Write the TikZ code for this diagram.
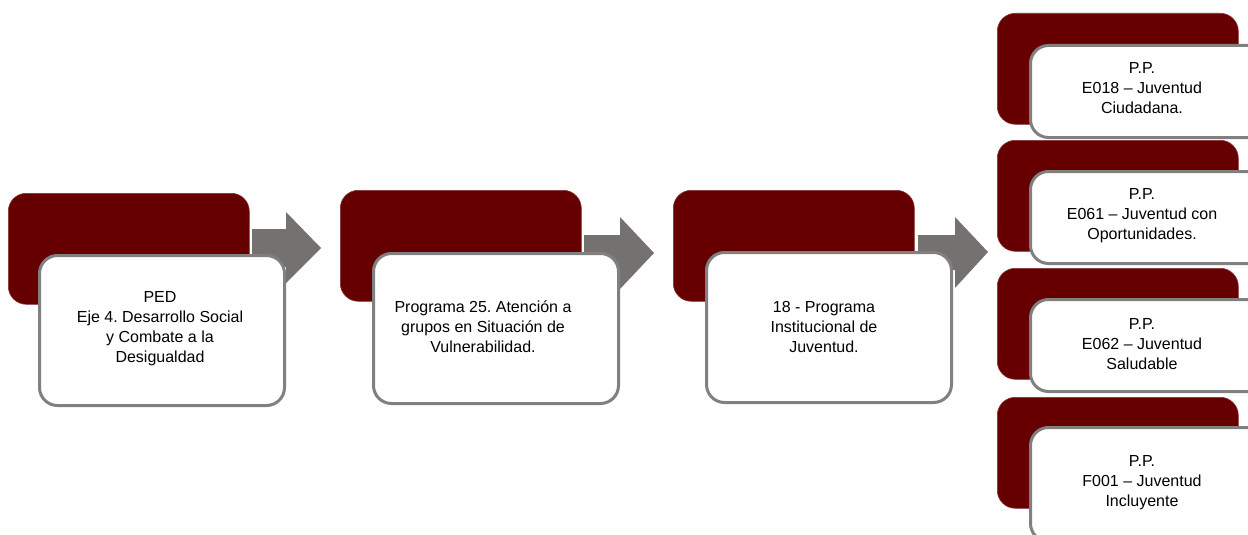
\documentclass[tikz,border=0pt]{standalone}
\usepackage{fontspec}
\setmainfont{Liberation Sans}
\frenchspacing
\definecolor{darkred}{HTML}{660000}
\definecolor{arrowgray}{HTML}{767171}
\definecolor{bordergray}{HTML}{808080}
\begin{document}
\begin{tikzpicture}[x=1pt,y=-1pt,
  redbox/.style={draw=darkred!80!white, line width=0.6pt, fill=darkred, rounded corners=18pt, anchor=north west, minimum width=241pt, minimum height=111pt, inner sep=0pt},
  whitebox/.style={draw=bordergray, line width=3pt, fill=white, rounded corners=18pt, anchor=north west, minimum width=245pt, minimum height=92pt, inner sep=0pt},
  bigwhite/.style={whitebox, minimum height=150pt},
  lbl/.style={align=center, inner sep=0pt, font=\fontsize{16}{20}\selectfont\frenchspacing},
  blockarrow/.style={fill=arrowgray}
]
\useasboundingbox (0,0) rectangle (1248,535);
\clip (0,0) rectangle (1248,535);
% arrows (behind)
\fill[blockarrow] (252,229) -- (286,229) -- (286,212) -- (321,248) -- (286,283) -- (286,267) -- (252,267) -- cycle;
\fill[blockarrow] (584,235) -- (620,235) -- (620,217) -- (654,253) -- (620,289) -- (620,271) -- (584,271) -- cycle;
\fill[blockarrow] (918,235) -- (955,235) -- (955,217) -- (988,252) -- (955,288) -- (955,270) -- (918,270) -- cycle;
% main chain
\node[redbox] (r1) at (8,193) {};
\node[bigwhite] (w1) at (38,254) {};
\node[lbl] (t1) at (160,328.5) {PED\\Eje 4. Desarrollo Social\\y Combate a la\\Desigualdad};
\node[redbox] (r2) at (340,190) {};
\node[bigwhite] (w2) at (372,252) {};
\node[lbl] (t2) at (483,326.5) {Programa 25. Atención a\\grupos en Situación de\\Vulnerabilidad.};
\node[redbox] (r3) at (673,190) {};
\node[bigwhite] (w3) at (705,251) {};
\node[lbl] (t3) at (824,327) {18 - Programa\\Institucional de\\Juventud.};
% right column
\node[redbox] (r4) at (997,13) {};
\node[whitebox] (w4) at (1029,44) {};
\node[lbl] (t4) at (1142,88) {P.P.\\E018 -- Juventud\\Ciudadana.};
\node[redbox] (r5) at (997,140) {};
\node[whitebox] (w5) at (1029,170) {};
\node[lbl] (t5) at (1142,216) {P.P.\\E061 -- Juventud con\\Oportunidades.};
\node[redbox] (r6) at (997,268) {};
\node[whitebox] (w6) at (1029,298) {};
\node[lbl] (t6) at (1142,344) {P.P.\\E062 -- Juventud\\Saludable};
\node[redbox] (r7) at (997,397) {};
\node[whitebox, minimum height=114pt] (w7) at (1029,426) {};
\node[lbl] (t7) at (1142,483) {P.P.\\F001 -- Juventud\\Incluyente};
\end{tikzpicture}
\end{document}
